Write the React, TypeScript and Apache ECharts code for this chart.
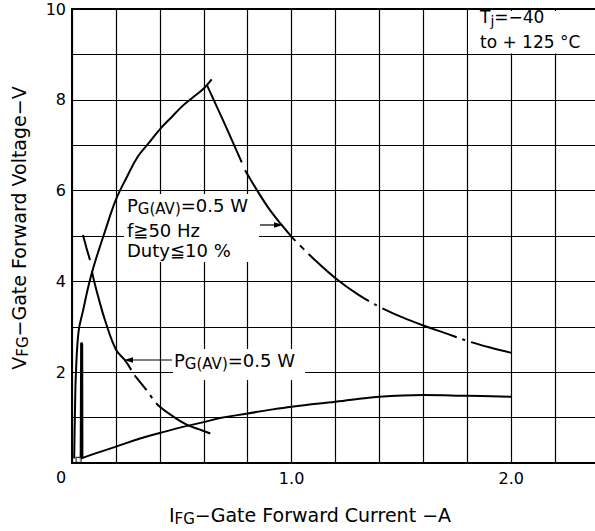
import React, { useEffect, useRef } from "react";
import * as echarts from "echarts";

// ---- data ----
// Rising limit curve (max VFG)
const curveA_I = [0.01, 0.013, 0.018, 0.03, 0.05, 0.075, 0.1, 0.15, 0.2, 0.25, 0.3, 0.35, 0.4, 0.45, 0.5, 0.55, 0.6, 0.636];
const curveA_V = [0.1, 1.0, 2.0, 2.9, 3.35, 3.9, 4.35, 5.1, 5.8, 6.3, 6.75, 7.05, 7.35, 7.6, 7.85, 8.05, 8.25, 8.45];

// Peak power curve PG(AV)=0.5 W, duty <= 10 %
const curveB1_I = [0.614, 0.65, 0.7, 0.773];
const curveB1_V = [8.33, 7.95, 7.42, 6.62];
const curveB2_I = [0.788, 0.85, 0.9, 0.95, 1.0];
const curveB2_V = [6.45, 5.95, 5.58, 5.27, 4.98];
const curveB3_I = [1.0, 1.1, 1.2, 1.3, 1.4, 1.5, 1.6, 1.7, 1.8, 1.9, 2.0];
const curveB3_V = [4.98, 4.5, 4.07, 3.72, 3.44, 3.22, 3.03, 2.86, 2.69, 2.55, 2.43];

// Average power curve PG(AV)=0.5 W
const curveC1_I = [0.05, 0.065, 0.082];
const curveC1_V = [5.02, 4.75, 4.47];
const curveC2_I = [0.091, 0.1, 0.12, 0.15, 0.2, 0.24, 0.27];
const curveC2_V = [4.22, 4.02, 3.65, 3.15, 2.5, 2.27, 2.05];
const curveC3_I = [0.285, 0.34, 0.378, 0.4, 0.45, 0.52, 0.58, 0.63];
const curveC3_V = [1.93, 1.6, 1.35, 1.24, 1.06, 0.85, 0.74, 0.65];

// Lower limit curve (min VFG)
const curveD_I = [0.03, 0.1, 0.2, 0.31, 0.4, 0.5, 0.6, 0.674, 0.8, 0.9, 1.0, 1.2, 1.4, 1.6, 1.8, 2.0];
const curveD_V = [0.08, 0.2, 0.36, 0.54, 0.66, 0.79, 0.9, 0.99, 1.09, 1.17, 1.24, 1.35, 1.46, 1.5, 1.48, 1.46];

// Narrow spike near the origin
const spike_I = [0.04, 0.042, 0.046, 0.047];
const spike_V = [0.1, 2.65, 2.62, 0.1];

// Axis ticks
const xMin = 0, xMax = 2.4, xStep = 0.2;
const yMin = 0, yMax = 10, yStep = 1;
const xTickLabels: Record<string, string> = { "1": "1.0", "2": "2.0" };
const yTickLabels = [2, 4, 6, 8, 10];

const FONT = "DejaVu Sans";

function pairs(I: number[], V: number[]) {
  return I.map((x, i) => [x, V[i]]);
}

function lineSeries(I: number[], V: number[], type: any = "solid", smooth: number | boolean = 0.3, width = 2) {
  return {
    type: "line",
    data: pairs(I, V),
    showSymbol: false,
    symbol: "none",
    smooth,
    silent: true,
    z: 5,
    lineStyle: { color: "#000", width, type },
  };
}

export default function App() {
  const ref = useRef<HTMLDivElement>(null);

  useEffect(() => {
    if (!ref.current) return;
    const chart = echarts.init(ref.current, null, { renderer: "svg" });

    const sub = { fontSize: 15, fontFamily: FONT, color: "#000", padding: [7, 0, 0, 0] };
    const main18 = { fontSize: 18, fontFamily: FONT, color: "#000" };

    const option: any = {
      animation: false,
      backgroundColor: "#fff",
      textStyle: { fontFamily: FONT, color: "#000" },
      grid: { left: 72, top: 9, width: 527, height: 454, containLabel: false },
      xAxis: [
        {
          type: "value",
          min: xMin,
          max: xMax,
          interval: xStep,
          axisLine: { show: true, onZero: false, lineStyle: { color: "#000", width: 2 } },
          axisTick: { show: false },
          splitLine: { show: true, lineStyle: { color: "#000", width: 1.2 } },
          axisLabel: {
            color: "#000",
            fontSize: 16,
            fontFamily: FONT,
            margin: 7,
            formatter: (v: number) => {
              const k = String(Math.round(v * 10) / 10);
              return xTickLabels[k] || "";
            },
          },
        },
        {
          type: "value",
          position: "top",
          min: xMin,
          max: xMax,
          interval: xStep,
          axisLine: { show: true, onZero: false, lineStyle: { color: "#000", width: 2 } },
          axisTick: { show: false },
          splitLine: { show: false },
          axisLabel: { show: false },
        },
      ],
      yAxis: {
        type: "value",
        min: yMin,
        max: yMax,
        interval: yStep,
        axisLine: { show: true, onZero: false, lineStyle: { color: "#000", width: 2 } },
        axisTick: { show: false },
        splitLine: { show: true, lineStyle: { color: "#000", width: 1.2 } },
        axisLabel: {
          color: "#000",
          fontSize: 16,
          fontFamily: FONT,
          margin: 6,
          padding: [8, 0, 0, 0],
          formatter: (v: number) => (yTickLabels.indexOf(Math.round(v)) >= 0 ? String(Math.round(v)) : ""),
        },
      },
      series: [
        lineSeries(curveA_I, curveA_V, "solid", 0.4),
        lineSeries(curveB1_I, curveB1_V, "solid", 0.3),
        lineSeries(curveB2_I, curveB2_V, "solid", 0.3),
        lineSeries(curveB3_I, curveB3_V, [6, 6, 6, 6, 77, 6, 3, 6, 80, 6, 3, 6, 300], 0.4),
        lineSeries(curveC1_I, curveC1_V, "solid", false),
        lineSeries(curveC2_I, curveC2_V, "solid", 0.4),
        lineSeries(curveC3_I, curveC3_V, [19, 6, 4, 6, 400], 0.4),
        lineSeries(curveD_I, curveD_V, "solid", 0.4),
        lineSeries(spike_I, spike_V, "solid", false, 2.2),
        {
          type: "scatter",
          data: [[0.03, 0.07]],
          symbol: "rect",
          symbolSize: 5,
          silent: true,
          z: 6,
          itemStyle: { color: "#fff", borderColor: "#000", borderWidth: 1.2 },
        },
      ],
      graphic: [
        // white backgrounds behind annotations
        { type: "rect", z: 1, shape: { x: 124, y: 194, width: 135, height: 68 }, style: { fill: "#fff" } },
        { type: "rect", z: 1, shape: { x: 173, y: 349, width: 132, height: 31 }, style: { fill: "#fff" } },
        { type: "rect", z: 1, shape: { x: 468, y: 11, width: 135, height: 42.5 }, style: { fill: "#fff" } },
        // upper annotation
        {
          type: "text",
          z: 10,
          x: 127,
          y: 205,
          style: {
            text: "{m|P}{s|G(AV)}{m|=0.5 W}",
            verticalAlign: "middle",
            align: "left",
            rich: { m: main18, s: sub },
          },
        },
        { type: "text", z: 10, x: 127, y: 230, style: { text: "f≧50 Hz", fontSize: 18, fontFamily: FONT, fill: "#000", verticalAlign: "middle", align: "left" } },
        { type: "text", z: 10, x: 127, y: 250, style: { text: "Duty≦10 %", fontSize: 18, fontFamily: FONT, fill: "#000", verticalAlign: "middle", align: "left" } },
        { type: "line", z: 10, shape: { x1: 260, y1: 225, x2: 276, y2: 225 }, style: { stroke: "#000", lineWidth: 1.2 } },
        { type: "polygon", z: 10, shape: { points: [[283, 225], [274, 222.3], [274, 227.7]] }, style: { fill: "#000" } },
        // lower annotation
        {
          type: "text",
          z: 10,
          x: 174,
          y: 360,
          style: {
            text: "{m|P}{s|G(AV)}{m|=0.5 W}",
            verticalAlign: "middle",
            align: "left",
            rich: { m: main18, s: sub },
          },
        },
        { type: "line", z: 10, shape: { x1: 131, y1: 360, x2: 172, y2: 360 }, style: { stroke: "#000", lineWidth: 1.2 } },
        { type: "polygon", z: 10, shape: { points: [[124, 360], [133, 357.3], [133, 362.7]] }, style: { fill: "#000" } },
        // Tj annotation
        {
          type: "text",
          z: 10,
          x: 480,
          y: 17,
          style: {
            text: "{m|T}{s|j}{m|=−40}",
            verticalAlign: "middle",
            align: "left",
            rich: { m: { fontSize: 17, fontFamily: FONT, color: "#000" }, s: { fontSize: 14, fontFamily: FONT, color: "#000", padding: [7, 0, 0, 0] } },
          },
        },
        { type: "text", z: 10, x: 480, y: 42, style: { text: "to + 125 °C", fontSize: 17, fontFamily: FONT, fill: "#000", verticalAlign: "middle", align: "left" } },
        // shared zero label
        { type: "text", z: 10, x: 61, y: 477, style: { text: "0", fontSize: 16, fontFamily: FONT, fill: "#000", verticalAlign: "middle", align: "center" } },
        // axis titles
        {
          type: "text",
          z: 10,
          x: 310,
          y: 515,
          style: {
            text: "{m|I}{s|FG}{m|−Gate Forward Current −A}",
            verticalAlign: "middle",
            align: "center",
            rich: { m: { fontSize: 19, fontFamily: FONT, color: "#000" }, s: { fontSize: 15, fontFamily: FONT, color: "#000", padding: [8, 0, 0, 0] } },
          },
        },
        {
          type: "text",
          z: 10,
          x: 19,
          y: 228,
          rotation: Math.PI / 2,
          style: {
            text: "{m|V}{s|FG}{m|−Gate Forward Voltage−V}",
            verticalAlign: "middle",
            align: "center",
            rich: { m: { fontSize: 19, fontFamily: FONT, color: "#000" }, s: { fontSize: 15, fontFamily: FONT, color: "#000", padding: [8, 0, 0, 0] } },
          },
        },
      ],
    };

    chart.setOption(option);
    return () => chart.dispose();
  }, []);

  return (
    <div style={{ position: "absolute", left: 0, top: 0, width: 595, height: 531, overflow: "hidden", background: "#fff" }}>
      <div ref={ref} style={{ width: 604, height: 531 }} />
    </div>
  );
}
